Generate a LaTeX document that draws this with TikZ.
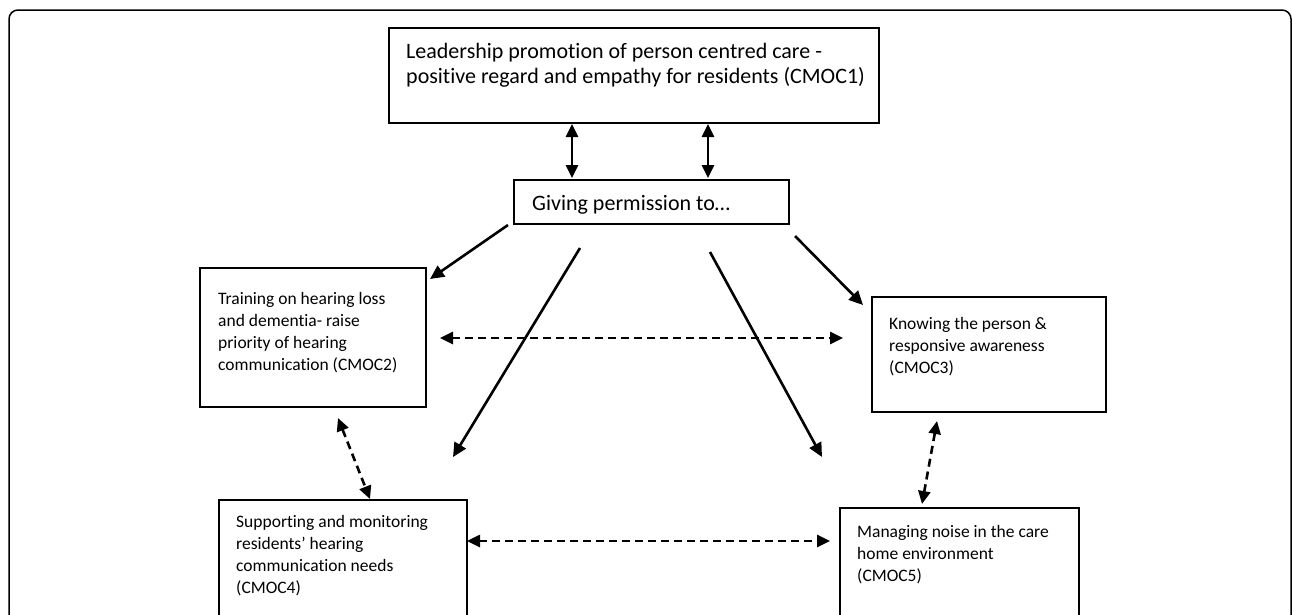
\documentclass[tikz,border=0pt]{standalone}
\usepackage{fontspec}
\setmainfont{Carlito}[Ligatures=NoCommon]
\usetikzlibrary{arrows.meta,calc}
\begin{document}
\begin{tikzpicture}[x=1pt,y=-1pt,
  box/.style={draw, line width=2pt, inner sep=0pt, anchor=north west},
  big/.style={font=\fontsize{22}{25}\selectfont, anchor=base west, inner sep=0pt, align=left},
  small/.style={font=\fontsize{17.5}{22}\selectfont, anchor=base west, inner sep=0pt, align=left},
  solidarr/.style={line width=2.6pt, -{Triangle[length=14pt,width=13pt]}},
  dbl/.style={line width=2.6pt, {Triangle[length=13pt,width=12pt]}-{Triangle[length=13pt,width=12pt]}},
  dashdbl/.style={dbl, dash pattern=on 8pt off 5pt}]
\useasboundingbox (0,0) rectangle (1292,614);
\clip (0,0) rectangle (1292,614);
\draw[line width=1.5pt, rounded corners=9pt] (9,10) rectangle (1291,700);

\node[box, minimum width=490pt, minimum height=95pt] (top) at (388,27) {};
\node[big] (toptext) at (406,83) {Leadership promotion of person centred care -\\positive regard and empathy for residents (CMOC1)};

\node[box, minimum width=275pt, minimum height=44pt] (give) at (513,179) {};
\node[big] (givetext) at (532,210) {Giving permission to…};

\node[box, minimum width=226pt, minimum height=139pt] (c2) at (199,267) {};
\node[small] (c2text) at (218,370) {Training on hearing loss\\and dementia- raise\\priority of hearing\\communication (CMOC2)};

\node[box, minimum width=234pt, minimum height=115pt] (c3) at (871,296) {};
\node[small] (c3text) at (889,373) {Knowing the person \&\\responsive awareness\\(CMOC3)};

\node[box, minimum width=248pt, minimum height=140pt] (c4) at (218,499) {};
\node[small] (c4text) at (236,593) {Supporting and monitoring\\residents’ hearing\\communication needs\\(CMOC4)};

\node[box, minimum width=239pt, minimum height=140pt] (c5) at (839,507) {};
\node[small] (c5text) at (857,581) {Managing noise in the care\\home environment\\(CMOC5)};

% connector end points
\coordinate (v1a) at (572,124); \coordinate (v1b) at (572,178);
\coordinate (v2a) at (708,124); \coordinate (v2b) at (708,178);
\coordinate (a1s) at (508,225); \coordinate (a1e) at (430,279);
\coordinate (a2s) at (580,248); \coordinate (a2e) at (453,457);
\coordinate (a3s) at (710,252); \coordinate (a3e) at (822,457);
\coordinate (a4s) at (795,236); \coordinate (a4e) at (863,305);
\coordinate (d1s) at (440,338); \coordinate (d1e) at (843,338);
\coordinate (d2s) at (338,418); \coordinate (d2e) at (370,499);
\coordinate (d3s) at (937,421); \coordinate (d3e) at (922,504);
\coordinate (d4s) at (467,541); \coordinate (d4e) at (830,541);

\draw[dbl] (v1a) -- (v1b);
\draw[dbl] (v2a) -- (v2b);
\draw[solidarr] (a1s) -- (a1e);
\draw[solidarr] (a2s) -- (a2e);
\draw[solidarr] (a3s) -- (a3e);
\draw[solidarr] (a4s) -- (a4e);
\draw[dashdbl] (d1s) -- (d1e);
\draw[dashdbl] (d2s) -- (d2e);
\draw[dashdbl] (d3s) -- (d3e);
\draw[dashdbl] (d4s) -- (d4e);
\end{tikzpicture}
\end{document}
